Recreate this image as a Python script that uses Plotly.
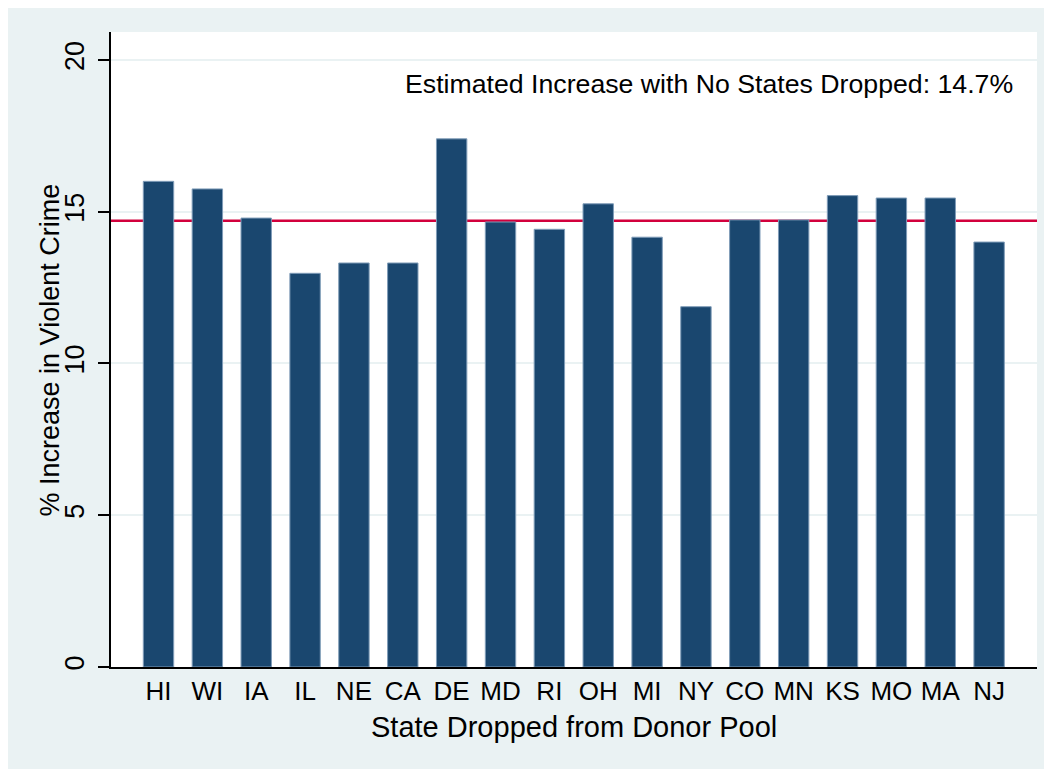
import plotly.graph_objects as go

states = ["HI", "WI", "IA", "IL", "NE", "CA", "DE", "MD", "RI", "OH",
          "MI", "NY", "CO", "MN", "KS", "MO", "MA", "NJ"]
pct_increase = [16.0, 15.75, 14.79, 12.97, 13.31, 13.31, 17.4, 14.66, 14.42, 15.26,
                14.16, 11.87, 14.73, 14.73, 15.53, 15.45, 15.45, 14.0]
baseline = 14.7
y_ticks = [0, 5, 10, 15, 20]

FONT = "Liberation Sans, Arial, Helvetica, sans-serif"
BG = "#EAF2F3"

W, H = 1044, 761
L, R, T, B = 103, 15, 24, 102

fig = go.Figure()
fig.add_trace(go.Bar(
    x=states, y=pct_increase, width=0.622,
    marker=dict(color="#1A476F", line=dict(color="#7f9cb8", width=1)),
    hoverinfo="x+y",
))

fig.add_shape(type="line", xref="paper", yref="y", x0=0, x1=1,
              y0=baseline, y1=baseline, layer="below",
              line=dict(color="#D2003C", width=2.5))

fig.add_annotation(
    text=f"Estimated Increase with No States Dropped: {baseline}%",
    xref="paper", yref="paper", x=0.976, y=0.918,
    xanchor="right", yanchor="middle", showarrow=False,
    font=dict(family=FONT, size=26.7, color="black"))

# axis titles
fig.add_annotation(
    text="State Dropped from Donor Pool",
    xref="paper", yref="paper", x=0.5, y=-0.094,
    xanchor="center", yanchor="middle", showarrow=False,
    font=dict(family=FONT, size=29, color="black"))
fig.add_annotation(
    text="% Increase in Violent Crime", textangle=-90,
    xref="paper", yref="paper", x=-0.0659, y=0.5,
    xanchor="center", yanchor="middle", showarrow=False,
    font=dict(family=FONT, size=27, color="black"))

fig.update_layout(
    width=W, height=H,
    margin=dict(l=L, r=R, t=T, b=B, pad=0),
    paper_bgcolor=BG, plot_bgcolor="white",
    showlegend=False,
    font=dict(family=FONT, color="black"),
    xaxis=dict(
        range=[-0.972, 17.98], showgrid=False, ticks="",
        showline=True, linecolor="black", linewidth=1.5,
        tickfont=dict(size=26), tickangle=0,
    ),
    yaxis=dict(
        range=[0, 20.92], tickvals=y_ticks, tickangle=-90,
        ticks="outside", ticklen=11, tickwidth=1.5, tickcolor="black",
        ticklabelstandoff=3,
        showline=True, linecolor="black", linewidth=1.5,
        showgrid=True, gridcolor=BG, gridwidth=1.5, zeroline=False,
        tickfont=dict(size=27),
    ),
)

fig.write_html("out.html")
